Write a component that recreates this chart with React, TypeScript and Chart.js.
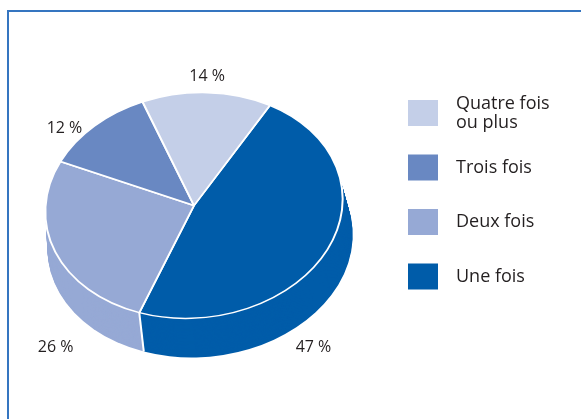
import React, { useEffect, useRef } from 'react';
import { Chart, registerables } from 'chart.js';

Chart.register(...registerables);

// ---- data ----
const categories: (string | string[])[] = ['Une fois', 'Deux fois', 'Trois fois', ['Quatre fois', 'ou plus']];
const shares = [47, 26, 12, 14];
const sliceColors = ['#005ca9', '#96a9d5', '#6988c2', '#c4cfe8'];

const FONT = '"Open Sans", "DejaVu Sans", sans-serif';
const TEXT = '#231f20';

const pie3d = {
  id: 'pie3d',
  beforeDraw(chart: any, _a: any, o: any) {
    const ctx = chart.ctx;
    ctx.save();
    ctx.strokeStyle = o.frameColor;
    ctx.lineWidth = 2;
    ctx.beginPath();
    ctx.moveTo(8, chart.height + 2);
    ctx.lineTo(8, 11);
    ctx.lineTo(chart.width + 2, 11);
    ctx.stroke();
    ctx.restore();
  },
  beforeDatasetsDraw(chart: any, _a: any, o: any) {
    const ctx = chart.ctx;
    const arcs = chart.getDatasetMeta(0).data;
    if (!arcs.length) return;
    const cx = arcs[0].x, cy = arcs[0].y;
    const steps = Math.ceil(o.depth);
    for (let i = steps; i >= 1; i--) {
      const t = i / steps;
      const k = 1 + o.grow * t;
      ctx.save();
      ctx.translate(cx + o.shiftX * t, cy + o.depth * t);
      ctx.rotate(o.tilt);
      ctx.scale(k, k * o.squash);
      arcs.forEach((a: any) => {
        ctx.beginPath();
        ctx.moveTo(0, 0);
        ctx.arc(0, 0, a.outerRadius, a.startAngle, a.endAngle);
        ctx.closePath();
        ctx.fillStyle = a.options.backgroundColor;
        ctx.fill();
      });
      ctx.restore();
    }
    // seams on the visible side
    const proj = (ang: number, r: number, t: number) => {
      const k = 1 + o.grow * t;
      const lx = r * k * Math.cos(ang);
      const ly = r * k * o.squash * Math.sin(ang);
      return {
        x: cx + o.shiftX * t + lx * Math.cos(o.tilt) - ly * Math.sin(o.tilt),
        y: cy + o.depth * t + lx * Math.sin(o.tilt) + ly * Math.cos(o.tilt),
      };
    };
    ctx.save();
    ctx.strokeStyle = '#ffffff';
    ctx.lineWidth = 2;
    arcs.forEach((a: any) => {
      const ang = a.startAngle;
      if (Math.sin(ang) > 0.05) {
        const p0 = proj(ang, a.outerRadius, 0);
        const p1 = proj(ang, a.outerRadius, 1);
        ctx.beginPath();
        ctx.moveTo(p0.x, p0.y);
        ctx.lineTo(p1.x, p1.y);
        ctx.stroke();
      }
    });
    ctx.restore();
    ctx.save();
    ctx.translate(cx, cy);
    ctx.rotate(o.tilt);
    ctx.scale(1, o.squash);
    ctx.translate(-cx, -cy);
  },
  afterDatasetsDraw(chart: any, _a: any, o: any) {
    const ctx = chart.ctx;
    ctx.restore();
    const arcs = chart.getDatasetMeta(0).data;
    const values = chart.data.datasets[0].data;
    const cx = arcs[0].x, cy = arcs[0].y;
    ctx.save();
    ctx.fillStyle = TEXT;
    ctx.font = `16px ${FONT}`;
    ctx.textAlign = 'center';
    ctx.textBaseline = 'middle';
    arcs.forEach((a: any, i: number) => {
      const mid = (a.startAngle + a.endAngle) / 2;
      const r = a.outerRadius * 1.12;
      const lx = r * Math.cos(mid);
      const ly = r * o.squash * Math.sin(mid);
      const front = Math.sin(mid) > 0;
      let x = cx + lx * Math.cos(o.tilt) - ly * Math.sin(o.tilt) + (front ? o.shiftX : 0);
      let y = cy + lx * Math.sin(o.tilt) + ly * Math.cos(o.tilt) + (front ? o.depth : 0);
      const n = o.labelNudge[i] || [0, 0];
      ctx.fillText(`${values[i]} %`, x + n[0], y + n[1]);
    });
    // legend (reverse order)
    const labels = chart.data.labels;
    const colors = chart.data.datasets[0].backgroundColor;
    ctx.font = `18px ${FONT}`;
    ctx.textAlign = 'left';
    const order = labels.map((_: any, i: number) => i).reverse();
    order.forEach((idx: number, row: number) => {
      const top = o.legend.y + row * o.legend.step;
      ctx.fillStyle = colors[idx];
      ctx.fillRect(o.legend.x, top, o.legend.box[0], o.legend.box[1]);
      ctx.fillStyle = TEXT;
      const lines = Array.isArray(labels[idx]) ? labels[idx] : [labels[idx]];
      const midY = top + o.legend.box[1] / 2;
      lines.forEach((ln: string, li: number) => {
        const yy = midY + (li - (lines.length - 1) / 2) * o.legend.lineH;
        ctx.fillText(ln, o.legend.textX, yy);
      });
    });
    ctx.restore();
  },
};

export default function App() {
  const ref = useRef<HTMLCanvasElement>(null);
  useEffect(() => {
    document.body.style.margin = '0';
    document.body.style.overflow = 'hidden';
    const chart = new Chart(ref.current!, {
      type: 'pie',
      data: {
        labels: categories as any,
        datasets: [
          {
            data: shares,
            backgroundColor: sliceColors,
            borderColor: '#ffffff',
            borderWidth: 2,
          },
        ],
      },
      options: {
        responsive: false,
        animation: false,
        events: [],
        rotation: 35,
        layout: { padding: { left: 44, right: 237, top: 55.5, bottom: 63.5 } },
        plugins: {
          legend: { display: false },
          tooltip: { enabled: false },
          pie3d: {
            frameColor: '#3575c0',
            depth: 36,
            shiftX: 6,
            grow: 0.027,
            squash: 0.755,
            tilt: (-5.7 * Math.PI) / 180,
            labelNudge: [[-36, 57], [11, 54], [-18, 12], [-2, -3]],
            legend: { x: 408, y: 100, step: 54.5, box: [30, 26], textX: 456, lineH: 19 },
          },
        } as any,
      },
      plugins: [pie3d],
    });
    return () => chart.destroy();
  }, []);
  return (
    <div style={{ width: 581, height: 419, background: '#fff' }}>
      <canvas ref={ref} width={581} height={419} style={{ display: 'block' }} />
    </div>
  );
}
